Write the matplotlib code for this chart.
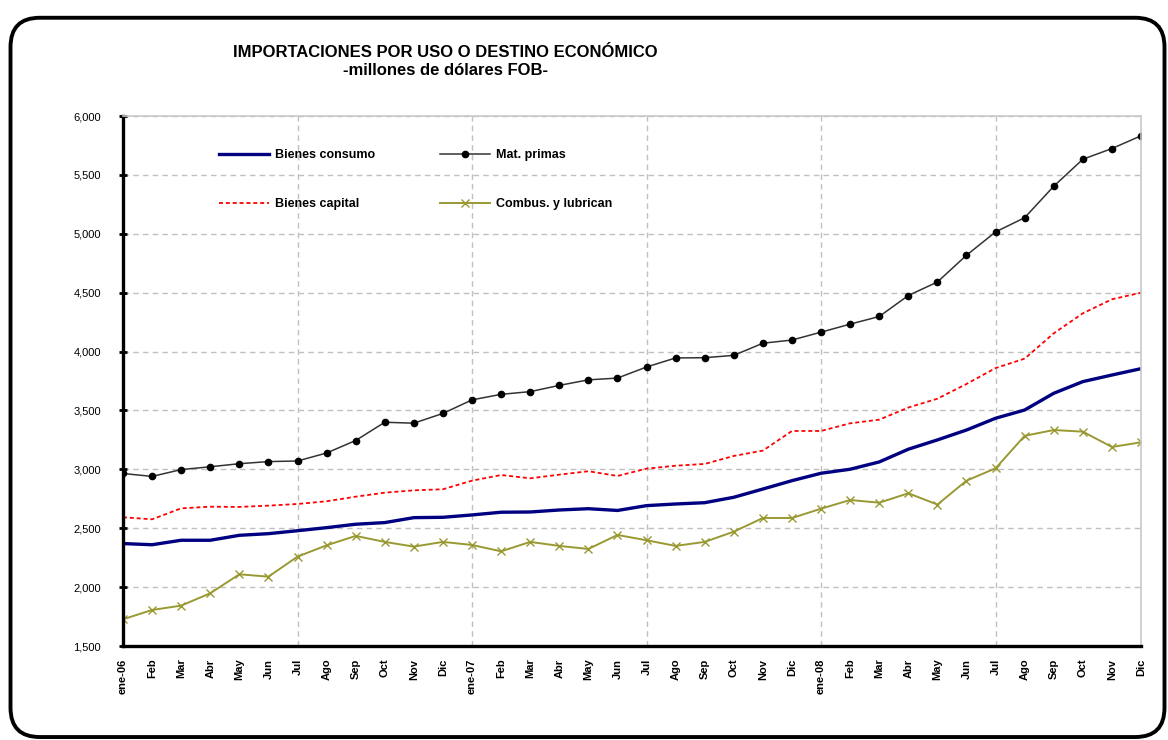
import matplotlib
matplotlib.use("Agg")
import matplotlib.pyplot as plt
from matplotlib.patches import FancyBboxPatch
from matplotlib.ticker import FuncFormatter, FixedLocator

plt.rcParams['font.family'] = ['Liberation Sans', 'DejaVu Sans']

# --- data: monthly imports, millions of US$ FOB (ene-06 .. dic-08) ---

meses = ["ene-06", "Feb", "Mar", "Abr", "May", "Jun", "Jul", "Ago", "Sep", "Oct", "Nov", "Dic",
         "ene-07", "Feb", "Mar", "Abr", "May", "Jun", "Jul", "Ago", "Sep", "Oct", "Nov", "Dic",
         "ene-08", "Feb", "Mar", "Abr", "May", "Jun", "Jul", "Ago", "Sep", "Oct", "Nov", "Dic"]

bienes_consumo = [2370, 2360, 2398, 2398, 2440, 2454, 2479, 2505, 2534, 2548, 2590, 2593,
                  2613, 2636, 2638, 2655, 2666, 2651, 2692, 2706, 2717, 2763, 2833, 2904,
                  2967, 3001, 3063, 3171, 3250, 3334, 3434, 3504, 3646, 3745, 3801, 3855]

mat_primas = [2965, 2940, 2998, 3022, 3048, 3066, 3071, 3139, 3245, 3400, 3392, 3475,
              3590, 3637, 3660, 3713, 3760, 3775, 3869, 3946, 3948, 3968, 4071, 4098,
              4165, 4233, 4298, 4476, 4591, 4818, 5016, 5137, 5404, 5633, 5724, 5832]

bienes_capital = [2593, 2576, 2669, 2683, 2681, 2692, 2706, 2729, 2768, 2802, 2822, 2831,
                  2904, 2952, 2924, 2955, 2984, 2944, 3006, 3031, 3046, 3114, 3159, 3326,
                  3326, 3391, 3422, 3525, 3600, 3725, 3860, 3940, 4155, 4325, 4444, 4500]

combustibles = [1727, 1806, 1843, 1948, 2109, 2089, 2259, 2355, 2435, 2384, 2344, 2384,
                2358, 2304, 2384, 2350, 2324, 2443, 2398, 2350, 2384, 2471, 2587, 2587,
                2666, 2740, 2717, 2797, 2701, 2904, 3009, 3285, 3334, 3320, 3190, 3230]

x = list(range(len(meses)))

fig = plt.figure(figsize=(11.68, 7.4), dpi=100)
fig.patch.set_facecolor("white")

# rounded frame around the whole chart
frame = FancyBboxPatch((0.009, 0.004), 0.988, 0.972, boxstyle="round,pad=0,rounding_size=0.025",
                       transform=fig.transFigure, facecolor="none", edgecolor="black",
                       linewidth=2.8, mutation_aspect=1.58)
fig.patches.append(frame)

ax = fig.add_axes([0.1053, 0.127, 0.8716, 0.7162])

ax.plot(x, bienes_consumo, color="#000080", lw=2.4, label="Bienes consumo")
ax.plot(x, bienes_capital, color="#ff0000", lw=1.3, ls=(0, (2.2, 1.6)), label="Bienes capital")
ax.plot(x, mat_primas, color="#333333", lw=1.1, marker="o", ms=4.5,
        mfc="black", mec="black", label="Mat. primas")
ax.plot(x, combustibles, color="#999933", lw=1.4, marker="x", ms=5.5, mew=1.0,
        label="Combus. y lubrican")

ax.set_xlim(0, 35)
ax.set_ylim(1500, 6000)

# axes styling
ax.set_yticks(range(1500, 6001, 500))
ax.yaxis.set_major_formatter(FuncFormatter(lambda v, p: f"{int(v):,}"))
ax.set_xticks(x)
ax.set_xticklabels(meses, rotation=90, fontsize=8, fontweight="bold", va="top")
ax.tick_params(axis="x", length=0, pad=9)
ax.tick_params(axis="y", direction="inout", length=6, width=2, labelsize=8, pad=13)

# tick marks every six months on the x axis
ax.xaxis.set_minor_locator(FixedLocator([0, 6, 12, 18, 24, 30]))
ax.tick_params(axis="x", which="minor", direction="inout", length=6, width=2)

for v in range(2000, 6001, 500):
    ax.axhline(v, color="#c0c0c0", lw=1, ls=(0, (4, 3)), zorder=0)
for m in [6, 12, 18, 24, 30]:
    ax.axvline(m, color="#c0c0c0", lw=1, ls=(0, (4, 3)), zorder=0)

ax.spines["left"].set_linewidth(2.4)
ax.spines["bottom"].set_linewidth(2.4)
ax.spines["top"].set_color("#c8c8c8")
ax.spines["right"].set_color("#c8c8c8")
ax.spines["top"].set_linewidth(1.2)
ax.spines["right"].set_linewidth(1.2)

h, l = ax.get_legend_handles_labels()
leg = ax.legend(h, l, ncol=2, frameon=False,
                loc="upper left", bbox_to_anchor=(0.088, 0.949), borderpad=0,
                handlelength=4.0, handletextpad=0.5, labelspacing=2.95, columnspacing=5.2,
                prop={"weight": "bold", "size": 9})

fig.text(0.381, 0.929, "IMPORTACIONES POR USO O DESTINO ECONÓMICO", ha="center", va="center",
         fontsize=12, fontweight="bold")
fig.text(0.381, 0.905, "-millones de dólares FOB-", ha="center", va="center",
         fontsize=12, fontweight="bold")

fig.savefig("out.png", dpi=100)
